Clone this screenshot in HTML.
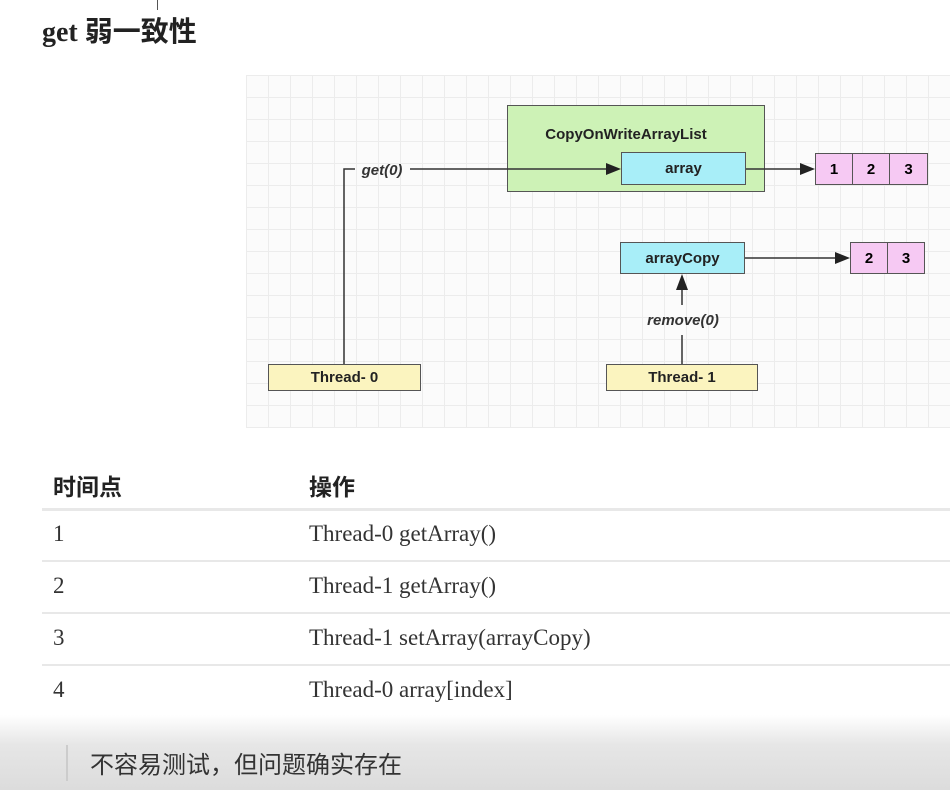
<!DOCTYPE html>
<html><head><meta charset="utf-8"><style>
body{margin:0;width:950px;height:790px;position:relative;background:#fff;font-family:"Liberation Sans","Noto Sans CJK SC",sans-serif;overflow:hidden}
.a{position:absolute}
.grid{left:246px;top:75px;width:704px;height:353px;background-color:#fbfbfb;background-image:linear-gradient(#ececec 1px,transparent 1px),linear-gradient(90deg,#ececec 1px,transparent 1px);background-size:22px 22px}
.box{position:absolute;border:1.5px solid #555;display:flex;align-items:center;justify-content:center;font-weight:bold;font-size:15px;color:#222;box-sizing:border-box}
.cell{position:absolute;border:1.5px solid #555;background:#f6c9f3;font-weight:bold;font-size:15px;display:flex;align-items:center;justify-content:center;box-sizing:border-box}
.row{position:absolute;left:42px;width:908px;height:2px;background:#e8e8e8}
.t{position:absolute;font-family:"Liberation Serif","Noto Serif CJK SC",serif;font-size:23px;color:#333}
</style></head><body>
<div class="a" style="left:157px;top:0;width:1px;height:10px;background:#555"></div>
<div class="a" style="left:42px;top:10px;font-size:28px;font-weight:bold;color:#222;font-family:'Liberation Serif','Noto Sans CJK SC',serif">get 弱一致性</div>
<div class="a grid"></div>
<div class="box" style="left:507px;top:105px;width:258px;height:87px;background:#cdf2b6;align-items:flex-start;padding-top:20px;padding-right:20px">CopyOnWriteArrayList</div>
<div class="box" style="left:621px;top:152px;width:125px;height:33px;background:#a8eef8">array</div>
<div class="cell" style="left:815px;top:153px;width:38px;height:32px">1</div>
<div class="cell" style="left:852px;top:153px;width:38px;height:32px">2</div>
<div class="cell" style="left:889px;top:153px;width:39px;height:32px">3</div>
<div class="box" style="left:620px;top:242px;width:125px;height:32px;background:#a8eef8">arrayCopy</div>
<div class="cell" style="left:850px;top:242px;width:38px;height:32px">2</div>
<div class="cell" style="left:887px;top:242px;width:38px;height:32px">3</div>
<div class="box" style="left:268px;top:364px;width:153px;height:27px;background:#fbf4bf">Thread- 0</div>
<div class="box" style="left:606px;top:364px;width:152px;height:27px;background:#fbf4bf">Thread- 1</div>
<svg class="a" style="left:0;top:0" width="950" height="430">
<g stroke="#333" stroke-width="1.5" fill="none">
<polyline points="344,364 344,169 355,169"/><line x1="410" y1="169" x2="606" y2="169"/>
<line x1="746" y1="169" x2="800" y2="169"/>
<line x1="745" y1="258" x2="835" y2="258"/>
<line x1="682" y1="364" x2="682" y2="335"/><line x1="682" y1="305" x2="682" y2="289"/>
</g>
<g fill="#222"><polygon points="621,169 606,163 606,175"/><polygon points="815,169 800,163 800,175"/><polygon points="850,258 835,252 835,264"/><polygon points="682,274 676,290 688,290"/></g>
<text x="382" y="175" font-size="15" font-style="italic" font-weight="bold" text-anchor="middle" fill="#333" font-family="Liberation Sans">get(0)</text>
<text x="683" y="325" font-size="15" font-style="italic" font-weight="bold" text-anchor="middle" fill="#333" font-family="Liberation Sans">remove(0)</text>
</svg>
<div class="a" style="left:53px;top:468px;font-size:23px;font-weight:bold;color:#222">时间点</div>
<div class="a" style="left:309px;top:468px;font-size:23px;font-weight:bold;color:#222">操作</div>
<div class="row" style="top:508px;height:3px"></div>
<div class="row" style="top:560px"></div>
<div class="row" style="top:612px"></div>
<div class="row" style="top:664px"></div>
<div class="t" style="left:53px;top:521px">1</div><div class="t" style="left:309px;top:521px">Thread-0 getArray()</div>
<div class="t" style="left:53px;top:573px">2</div><div class="t" style="left:309px;top:573px">Thread-1 getArray()</div>
<div class="t" style="left:53px;top:625px">3</div><div class="t" style="left:309px;top:625px">Thread-1 setArray(arrayCopy)</div>
<div class="t" style="left:53px;top:677px">4</div><div class="t" style="left:309px;top:677px">Thread-0 array[index]</div>
<div class="a" style="left:0;top:715px;width:950px;height:75px;background:linear-gradient(#fff,#e6e6e6 40%,#dcdcdc)"></div>
<div class="a" style="left:66px;top:745px;width:2px;height:36px;background:#ccc"></div>
<div class="a" style="left:90px;top:745px;font-size:24px;color:#333">不容易测试，但问题确实存在</div>
</body></html>
